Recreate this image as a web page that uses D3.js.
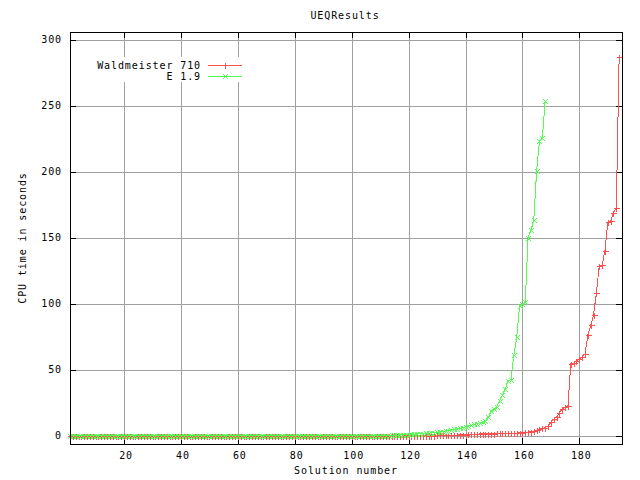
<!DOCTYPE html>
<html>
<head>
<meta charset="utf-8">
<script src="https://cdn.jsdelivr.net/npm/d3@7"></script>
<style>
  body { margin: 0; background: #fff; }
  text { font-family: "DejaVu Sans Mono", monospace; font-size: 10px; letter-spacing: 0.9px; fill: #000; }
</style>
</head>
<body>
<div id="chart"></div>
<script>
// CPU time per solution, Waldmeister 710 (solutions 1..194)
const waldmeisterTimes = [
  0.1,0.1,0.1,0.1,0.1,0.1,0.1,0.1,0.1,0.1,
  0.1,0.1,0.1,0.1,0.1,0.1,0.1,0.1,0.1,0.1,
  0.1,0.1,0.1,0.1,0.1,0.1,0.1,0.1,0.1,0.1,
  0.1,0.1,0.1,0.1,0.1,0.1,0.1,0.1,0.1,0.1,
  0.1,0.1,0.1,0.1,0.1,0.1,0.1,0.1,0.1,0.1,
  0.1,0.1,0.1,0.1,0.1,0.1,0.1,0.1,0.1,0.1,
  0.1,0.1,0.1,0.1,0.1,0.1,0.1,0.1,0.1,0.1,
  0.1,0.1,0.1,0.1,0.1,0.1,0.1,0.1,0.1,0.1,
  0.1,0.1,0.1,0.1,0.1,0.1,0.1,0.1,0.1,0.1,
  0.1,0.1,0.1,0.1,0.1,0.1,0.1,0.1,0.1,0.1,
  0.1,0.1,0.1,0.1,0.1,0.1,0.1,0.1,0.1,0.1,
  0.1,0.1,0.1,0.1,0.2,
  0.2,0.2,0.3,0.3,0.3,0.4,0.4,0.4,0.5,0.5,
  0.5,0.6,0.6,0.6,0.7,0.7,0.8,0.8,0.9,0.9,
  1.0,1.0,1.1,1.2,1.3,1.4,1.5,1.6,1.7,1.8,
  1.9,2.0,2.0,2.1,2.1,2.2,2.2,2.3,2.3,2.4,
  2.4,2.5,2.5,2.6,2.7,
  3.0,3.2,3.6,4.0,4.6,5.3,6.0,6.6,7.8,10.5,
  13.0,15.0,17.5,21.0,22.0,23.2,
  55.0,55.5,57.0,58.5,60.0,62.5,
  76.7,84.0,92.0,108.8,129.0,129.5,140.6,162.0,163.0,169.0,173.0,287.0
];

// CPU time per solution, E 1.9 (solutions 1..168)
const eproverTimes = [
  0.3,0.3,0.3,0.3,0.3,0.3,0.3,0.3,0.3,0.3,
  0.3,0.3,0.3,0.3,0.3,0.3,0.3,0.3,0.3,0.3,
  0.3,0.3,0.3,0.3,0.3,0.3,0.3,0.3,0.3,0.3,
  0.3,0.3,0.3,0.3,0.3,0.3,0.3,0.3,0.3,0.3,
  0.3,0.3,0.3,0.3,0.3,0.3,0.3,0.3,0.3,0.3,
  0.3,0.3,0.3,0.3,0.3,0.3,0.3,0.3,0.3,0.3,
  0.3,0.3,0.3,0.3,0.3,0.3,0.3,0.3,0.3,0.3,
  0.3,0.3,0.3,0.3,0.3,0.3,0.3,0.3,0.3,0.3,
  0.3,0.3,0.3,0.3,0.3,0.3,0.3,0.3,0.3,0.3,
  0.3,0.3,0.3,0.3,0.3,0.3,0.3,0.3,0.3,0.3,
  0.3,0.3,0.3,0.3,0.3,0.3,0.3,0.3,0.3,0.3,
  0.4,0.5,0.6,0.7,0.8,0.9,
  1.0,1.1,1.2,1.3,1.5,1.6,1.8,1.9,2.0,
  2.2,2.4,2.6,2.8,3.0,3.3,3.6,4.0,4.4,4.8,
  5.2,5.6,6.0,6.5,7.2,7.8,8.4,9.0,9.6,10.2,
  10.6,12.0,14.5,19.0,21.0,22.5,27.0,31.0,36.0,42.0,43.0,
  61.5,75.0,99.0,100.0,102.0,150.5,156.0,164.0,201.0,224.0,226.0,254.0
];

const xTicks = [20, 40, 60, 80, 100, 120, 140, 160, 180];
const yTicks = [0, 50, 100, 150, 200, 250, 300];

const series = [
  { name: "Waldmeister 710", values: waldmeisterTimes, color: "#ff5050", marker: "plus" },
  { name: "E 1.9", values: eproverTimes, color: "#50ff50", marker: "cross" }
];

const width = 640;
const height = 480;
const plotLeft = 70, plotRight = 622, plotTop = 32, plotBottom = 444;

const svg = d3.select("#chart")
  .append("svg")
  .attr("width", width)
  .attr("height", height)
  .attr("shape-rendering", "crispEdges");

const x = d3.scaleLinear().domain([1, 195]).range([plotLeft, plotRight]);
const y = d3.scaleLinear().domain([-5.8, 306.3]).range([plotBottom, plotTop]);

const px = v => Math.round(v) + 0.5;

// grid
svg.append("g").selectAll("line")
  .data(xTicks)
  .join("line")
  .attr("x1", d => px(x(d))).attr("x2", d => px(x(d)))
  .attr("y1", plotTop).attr("y2", plotBottom)
  .attr("stroke", "#a0a0a0");

svg.append("g").selectAll("line")
  .data(yTicks)
  .join("line")
  .attr("x1", plotLeft).attr("x2", plotRight)
  .attr("y1", d => px(y(d))).attr("y2", d => px(y(d)))
  .attr("stroke", "#a0a0a0");

// tick marks on all four sides, pointing inwards
const ticks = svg.append("g").attr("stroke", "#000");
xTicks.forEach(d => {
  ticks.append("line").attr("x1", px(x(d))).attr("x2", px(x(d))).attr("y1", plotBottom).attr("y2", plotBottom - 6);
  ticks.append("line").attr("x1", px(x(d))).attr("x2", px(x(d))).attr("y1", plotTop).attr("y2", plotTop + 6);
});
yTicks.forEach(d => {
  ticks.append("line").attr("x1", plotLeft).attr("x2", plotLeft + 6).attr("y1", px(y(d))).attr("y2", px(y(d)));
  ticks.append("line").attr("x1", plotRight).attr("x2", plotRight - 6).attr("y1", px(y(d))).attr("y2", px(y(d)));
});

// tick labels
svg.append("g").selectAll("text")
  .data(xTicks)
  .join("text")
  .attr("x", d => x(d) + 2)
  .attr("y", 456)
  .attr("text-anchor", "middle")
  .attr("dominant-baseline", "middle")
  .text(d => d);

svg.append("g").selectAll("text")
  .data(yTicks)
  .join("text")
  .attr("x", 62)
  .attr("y", d => y(d))
  .attr("text-anchor", "end")
  .attr("dominant-baseline", "middle")
  .text(d => d);

// legend background hides the grid behind the key
svg.append("rect")
  .attr("x", 90).attr("y", 57)
  .attr("width", 156).attr("height", 25)
  .attr("fill", "#fff");

function markerPath(type, s) {
  if (type === "plus") return `M${-s},0H${s}M0,${-s}V${s}`;
  return `M${-s},${-s}L${s},${s}M${-s},${s}L${s},${-s}`;
}

const line = d3.line()
  .x((d, i) => x(i + 1))
  .y(d => y(d));

series.forEach((s, k) => {
  const g = svg.append("g");
  g.append("path")
    .datum(s.values)
    .attr("d", line)
    .attr("fill", "none")
    .attr("stroke", s.color)
    .attr("stroke-width", 1);
  g.selectAll("path.pt")
    .data(s.values)
    .join("path")
    .attr("class", "pt")
    .attr("transform", (d, i) => `translate(${px(x(i + 1))},${px(y(d))})`)
    .attr("d", markerPath(s.marker, s.marker === "plus" ? 3 : 2.5))
    .attr("fill", "none")
    .attr("stroke", s.color);

  // key entry
  const ky = 66 + k * 10.5;
  svg.append("text")
    .attr("x", 201)
    .attr("y", ky)
    .attr("text-anchor", "end")
    .attr("dominant-baseline", "middle")
    .text(s.name);
  svg.append("line")
    .attr("x1", 208).attr("x2", 242)
    .attr("y1", px(ky - 1)).attr("y2", px(ky - 1))
    .attr("stroke", s.color);
  svg.append("path")
    .attr("transform", `translate(${px(225)},${px(ky - 1)})`)
    .attr("d", markerPath(s.marker, s.marker === "plus" ? 3 : 2.5))
    .attr("fill", "none")
    .attr("stroke", s.color);
});

// border
svg.append("rect")
  .attr("x", plotLeft + 0.5).attr("y", plotTop + 0.5)
  .attr("width", plotRight - plotLeft).attr("height", plotBottom - plotTop)
  .attr("fill", "none")
  .attr("stroke", "#000");

// titles
svg.append("text")
  .attr("x", 345).attr("y", 16)
  .attr("text-anchor", "middle")
  .attr("dominant-baseline", "middle")
  .text("UEQResults");

svg.append("text")
  .attr("x", 346).attr("y", 471)
  .attr("text-anchor", "middle")
  .attr("dominant-baseline", "middle")
  .text("Solution number");

svg.append("text")
  .attr("transform", "translate(23,238) rotate(-90)")
  .attr("text-anchor", "middle")
  .attr("dominant-baseline", "middle")
  .text("CPU time in seconds");
</script>
</body>
</html>
